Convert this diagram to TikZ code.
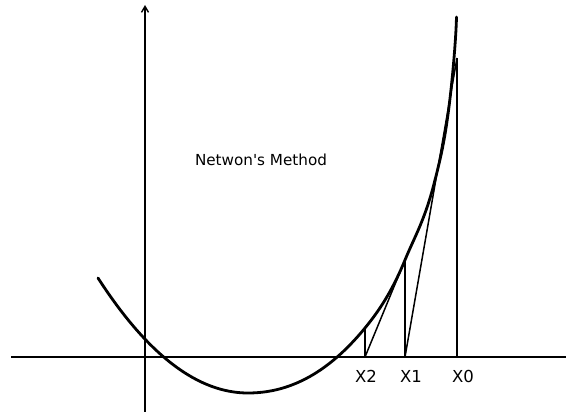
\documentclass[tikz,border=0pt]{standalone}
\usepackage{fontspec}
\newfontfamily\labfont{DejaVu Sans}
\usetikzlibrary{arrows.meta}
\tikzset{
  axisline/.style={line width=1.8pt,black},
  curveline/.style={line width=2.8pt,black,line cap=round},
  thinline/.style={line width=1.5pt,black},
  xlabel/.style={font=\labfont\fontsize{16.5}{18}\selectfont,inner sep=0pt,anchor=center},
  title/.style={font=\labfont\fontsize{15.2}{17}\selectfont,inner sep=0pt,anchor=center}
}
\begin{document}
\begin{tikzpicture}[x=1pt,y=-1pt]
\useasboundingbox (0,0) rectangle (566,412);
% axes
\coordinate (xl) at (11,357);
\coordinate (xr) at (566,357);
\coordinate (yb) at (145,412);
\coordinate (yt) at (145,5);
\draw[axisline] (xl) -- (xr);
\draw[axisline,-{Straight Barb[length=6pt,width=7pt,line width=1.4pt]}] (yb) -- (yt);
% curve
\draw[curveline] (98,278)
  .. controls (148,355.5) and (198,393) .. (248,393)
  .. controls (287,393) and (326,375.6) .. (365,328)
  .. controls (378.3,311.8) and (391.7,292.3) .. (405,260)
  .. controls (415,235.7) and (425,220) .. (435,180)
  .. controls (440.7,157.3) and (446.3,136.7) .. (452,80)
  .. controls (453.5,65) and (456,37) .. (456.5,17);
% Newton iterates
\coordinate (X0) at (457,357);
\coordinate (X1) at (405,357);
\coordinate (X2) at (365,357);
\coordinate (T0) at (457,58);
\coordinate (T1) at (405,260);
\coordinate (T2) at (365,328);
\draw[thinline] (X0) -- (T0);
\draw[thinline] (T0) -- (X1);
\draw[thinline] (X1) -- (T1);
\draw[thinline] (T1) -- (X2);
\draw[thinline] (X2) -- (T2);
% labels
\node[xlabel] (l2) at (366,376) {X2};
\node[xlabel] (l1) at (411,376) {X1};
\node[xlabel] (l0) at (463,376) {X0};
\node[title] (ttl) at (261,160) {Netwon's Method};
\end{tikzpicture}
\end{document}
